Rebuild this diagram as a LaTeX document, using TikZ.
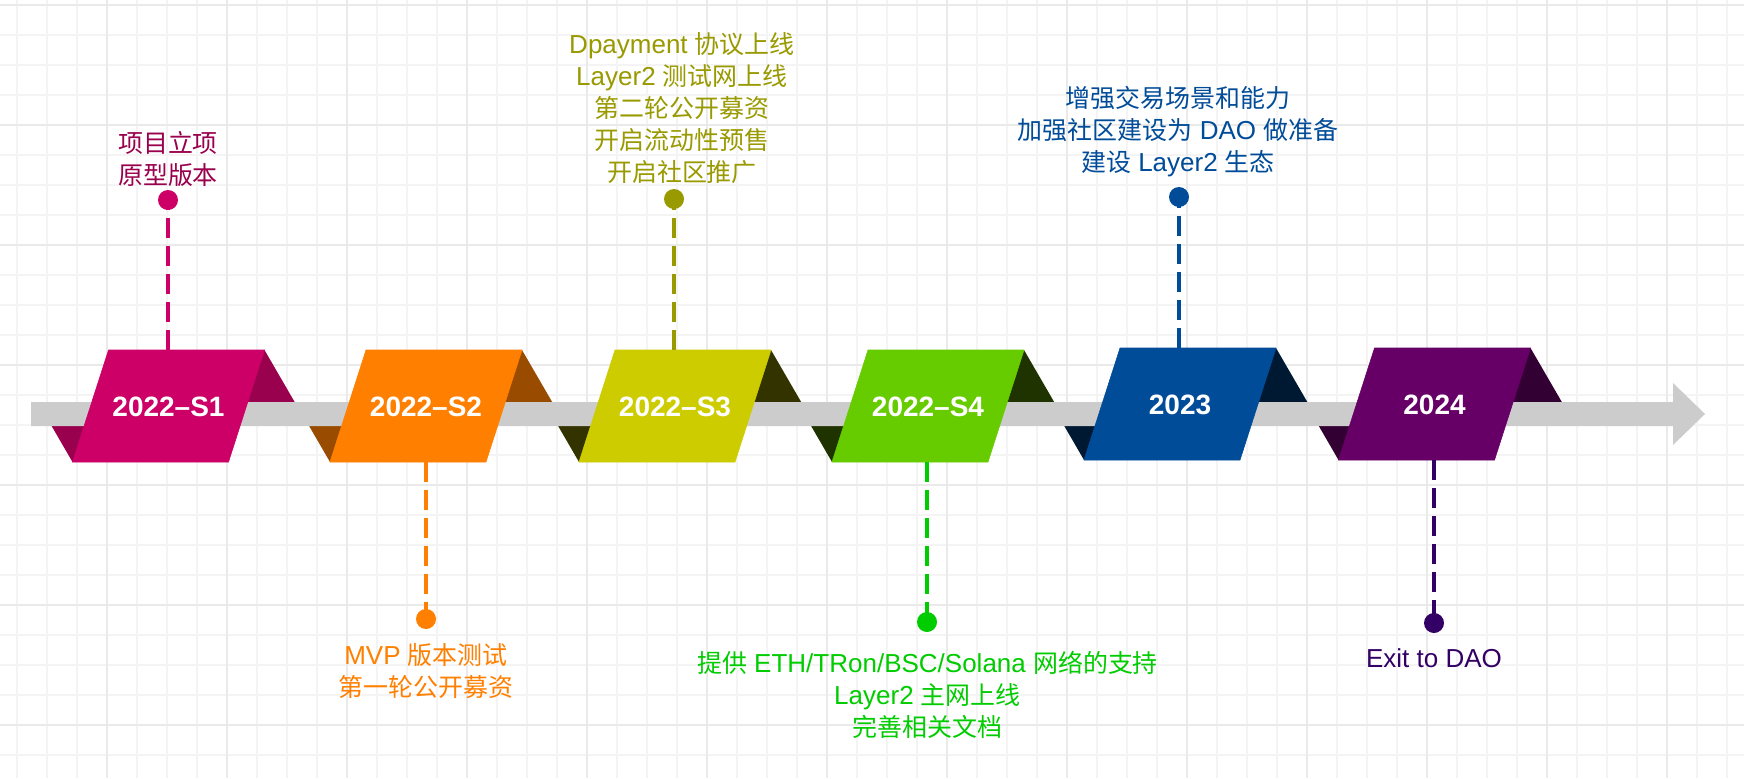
\documentclass[tikz,border=0pt]{standalone}
\usepackage{fontspec}
\setmainfont{Liberation Sans}
\newfontfamily\cjk[Scale=0.96]{Noto Sans CJK SC}

% palette
\definecolor{gridminor}{HTML}{F4F4F4}
\definecolor{gridmajor}{HTML}{EAEAEA}
\definecolor{barcol}{HTML}{CCCCCC}
\definecolor{aFront}{HTML}{CC0066}\definecolor{aBack}{HTML}{99004D}\definecolor{aText}{HTML}{99004D}
\definecolor{bFront}{HTML}{FF8000}\definecolor{bBack}{HTML}{994C00}\definecolor{bText}{HTML}{FF8000}
\definecolor{cFront}{HTML}{CCCC00}\definecolor{cBack}{HTML}{333300}\definecolor{cText}{HTML}{999900}
\definecolor{dFront}{HTML}{66CC00}\definecolor{dBack}{HTML}{1F3300}\definecolor{dText}{HTML}{00CC00}
\definecolor{eFront}{HTML}{004C99}\definecolor{eBack}{HTML}{001933}\definecolor{eText}{HTML}{004C99}
\definecolor{fFront}{HTML}{660066}\definecolor{fBack}{HTML}{330033}\definecolor{fText}{HTML}{330066}

\begin{document}
\begin{tikzpicture}[x=0.75pt,y=-0.75pt,
  minorgrid/.style={draw=gridminor,line width=1pt},
  majorgrid/.style={draw=gridmajor,line width=1.2pt},
  yearlabel/.style={text=white,inner sep=0pt,font=\bfseries\fontsize{21pt}{25pt}\selectfont},
  dotnode/.style={circle,fill=#1,inner sep=0pt,minimum size=15pt},
  link/.style={draw=#1,line width=2.6pt,dash pattern=on 15pt off 6pt},
  note/.style={text=#1,align=center,inner sep=0pt,font=\fontsize{19.5pt}{24pt}\selectfont}
]
% canvas
\useasboundingbox (0,0) rectangle (1744,778);
\fill[white] (0,0) rectangle (1744,778);

% background grid
\foreach \x in {17,47,...,1727} \draw[minorgrid] (\x,0) -- (\x,778);
\foreach \y in {5,35,...,755} \draw[minorgrid] (0,\y) -- (1744,\y);
\foreach \x in {107,227,...,1667} \draw[majorgrid] (\x,0) -- (\x,778);
\foreach \y in {5,125,...,725} \draw[majorgrid] (0,\y) -- (1744,\y);

% folded backs of the ribbons (behind the time bar)
\foreach \cx/\t/\bc in {168.5/350/aBack, 426/350/bBack, 675/350/cBack,
                        928/350/dBack, 1180/348/eBack, 1434.5/348/fBack}{
  \fill[\bc] (\cx+96,\t) -- ({\cx+96+0.58*(402-\t)},402) -- (\cx+40,402) -- cycle;
  \fill[\bc] ({\cx-96-0.58*(\t+112-426)},426) -- (\cx-96,\t+112) -- (\cx-40,426) -- cycle;
}

% time bar with arrow head
\fill[barcol] (31,402) -- (1673,402) -- (1673,383) -- (1705,414) -- (1673,445)
              -- (1673,426) -- (31,426) -- cycle;

% front faces with year labels
\foreach \i/\cx/\t/\fc/\lab in {1/168.5/350/aFront/2022–S1, 2/426/350/bFront/2022–S2,
                                3/675/350/cFront/2022–S3, 4/928/350/dFront/2022–S4,
                                5/1180/348/eFront/2023, 6/1434.5/348/fFront/2024}{
  \filldraw[fill=\fc,draw=\fc,line width=0.4pt]
    (\cx-60,\t) -- (\cx+96,\t) -- (\cx+60,\t+112) -- (\cx-96,\t+112) -- cycle;
  \node[yearlabel] (y\i) at (\cx,\t+57) {\lab};
}

% attachment points on the faces
\coordinate (e1) at (168,350);
\coordinate (e2) at (426,462);
\coordinate (e3) at (674,350);
\coordinate (e4) at (927,462);
\coordinate (e5) at (1179,348);
\coordinate (e6) at (1434,460);

% marker dots
\node[dotnode=aFront] (d1) at (168,200) {};
\node[dotnode=bFront] (d2) at (426,619) {};
\node[dotnode=cText]  (d3) at (674,199) {};
\node[dotnode=dText]  (d4) at (927,622) {};
\node[dotnode=eFront] (d5) at (1179,197) {};
\node[dotnode=fText]  (d6) at (1434,623) {};

% dashed leaders
\draw[link=aFront] (e1) -- (d1.center);
\draw[link=bFront] (e2) -- (d2.center);
\draw[link=cText]  (e3) -- (d3.center);
\draw[link=dText]  (e4) -- (d4.center);
\draw[link=eFront] (e5) -- (d5.center);
\draw[link=fText]  (e6) -- (d6.center);

% milestone notes
\node[note=aText] (n1) at (168,159.5) {{\cjk 项目立项}\\{\cjk 原型版本}};
\node[note=bText] (n2) at (426,671.5) {MVP {\cjk 版本测试}\\{\cjk 第一轮公开募资}};
\node[note=cText] (n3) at (682,108.5) {Dpayment {\cjk 协议上线}\\Layer2 {\cjk 测试网上线}\\{\cjk 第二轮公开募资}\\{\cjk 开启流动性预售}\\{\cjk 开启社区推广}};
\node[note=dText] (n4) at (927.5,695) {{\cjk 提供} ETH/TRon/BSC/Solana {\cjk 网络的支持}\\Layer2 {\cjk 主网上线}\\{\cjk 完善相关文档}};
\node[note=eText] (n5) at (1178,132) {{\cjk 增强交易场景和能力}\\{\cjk 加强社区建设为} DAO {\cjk 做准备}\\{\cjk 建设} Layer2 {\cjk 生态}};
\node[note=fText] (n6) at (1434,658) {Exit to DAO};
\end{tikzpicture}
\end{document}
